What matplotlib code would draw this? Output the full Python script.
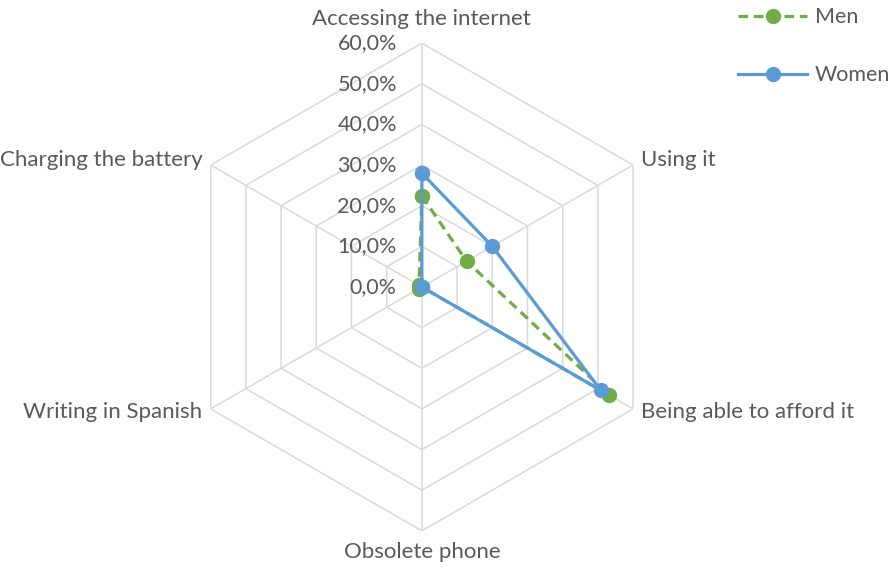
import numpy as np
import matplotlib.pyplot as plt

# categories clockwise from the top
categories = ["Accessing the internet", "Using it", "Being able to afford it",
              "Obsolete phone", "Writing in Spanish", "Charging the battery"]
men = [22.4, 12.7, 53.2, 0.0, 0.8, 0.8]
women = [28.0, 20.0, 50.8, 0.0, 0.0, 0.0]
rings = [10, 20, 30, 40, 50, 60]
ring_labels = ["0,0%", "10,0%", "20,0%", "30,0%", "40,0%", "50,0%", "60,0%"]

plt.rcParams['font.family'] = ['Lato', 'DejaVu Sans']
txt_color = "#595959"
grid_color = "#D9D9D9"
fs = 15.5

fig = plt.figure(figsize=(8.9, 5.67), dpi=100)
ax = fig.add_axes([0.2, 0.0635, 0.548, 0.8607], projection="polar")
ax.set_theta_offset(np.pi / 2)
ax.set_theta_direction(-1)
ax.set_ylim(0, 60)
ax.grid(False)
ax.spines["polar"].set_visible(False)
ax.set_xticks([])
ax.set_yticks([])
ax.patch.set_alpha(0)

n = len(categories)
angles = np.linspace(0, 2 * np.pi, n, endpoint=False)
closed = np.append(angles, angles[0])

# hexagon grid
for r in rings:
    ax.plot(closed, [r] * (n + 1), color=grid_color, lw=1.1, zorder=1)
for a in angles:
    ax.plot([a, a], [0, 60], color=grid_color, lw=1.1, zorder=1)

# radial labels along top spoke
for i, lab in enumerate(ring_labels):
    ax.annotate(lab, xy=(0, i * 10), xytext=(-18, 0), textcoords="offset points",
                ha="right", va="center", fontsize=fs, color=txt_color)

# category labels
offsets = [(0, 10, "center", "bottom"), (6, 4, "left", "center"),
           (6, -2, "left", "center"), (0, -8, "center", "top"),
           (-6, -2, "right", "center"), (-6, 4, "right", "center")]
for a, lab, (dx, dy, ha, va) in zip(angles, categories, offsets):
    ax.annotate(lab, xy=(a, 60), xytext=(dx, dy), textcoords="offset points",
                ha=ha, va=va, fontsize=16, color=txt_color)

men_c = np.append(men, men[0])
women_c = np.append(women, women[0])
ax.plot(closed, men_c, color="#70AD47", lw=2.3, ls=(0, (3, 1.8)), marker="o",
        markersize=10, label="Men", zorder=3)
ax.plot(closed, women_c, color="#5B9BD5", lw=2.3, marker="o",
        markersize=10, label="Women", zorder=4)

fig.legend(loc="upper left", bbox_to_anchor=(0.808, 1.021), frameon=False,
           handlelength=3.2, handletextpad=0.35, labelspacing=1.75, fontsize=fs,
           labelcolor=txt_color)

fig.savefig("out.png", dpi=100)
